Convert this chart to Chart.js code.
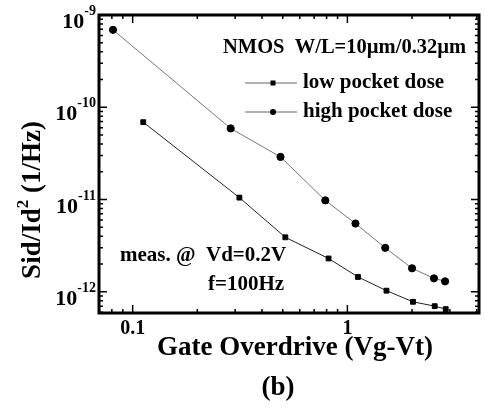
<!DOCTYPE html>
<html>
<head>
<meta charset="utf-8">
<script src="https://cdn.jsdelivr.net/npm/chart.js@4/dist/chart.umd.min.js"></script>
<style>
  body { margin: 0; background: #fff; }
  canvas { display: block; }
</style>
</head>
<body>
<canvas id="noise-chart" width="484" height="416"></canvas>
<script>
// Gate overdrive (V) and normalized drain current noise (1/Hz)
const lowX = [0.112, 0.314, 0.514, 0.817, 1.12, 1.52, 2.02, 2.55, 2.87];
const lowY = [6.9e-11, 1.05e-11, 3.9e-12, 2.3e-12, 1.45e-12, 1.03e-12, 7.8e-13, 7.0e-13, 6.5e-13];
const highX = [0.081, 0.286, 0.488, 0.789, 1.09, 1.50, 2.0, 2.53, 2.85];
const highY = [6.9e-10, 5.9e-11, 2.9e-11, 9.8e-12, 5.5e-12, 3.0e-12, 1.8e-12, 1.4e-12, 1.3e-12];

const seriesNames = ['low pocket dose', 'high pocket dose'];
const xTickLabels = ['0.1', '1'];
const xTickValues = [0.1, 1];
const yDecades = [-12, -11, -10, -9];

const FONT = '"Liberation Serif", "Times New Roman", serif';

function toPoints(xs, ys) {
  return xs.map((x, i) => ({ x: x, y: ys[i] }));
}

// Draw frame, inward ticks, labels, legend and notes
const decorations = {
  id: 'decorations',
  afterDraw(chart) {
    const ctx = chart.ctx;
    const xs = chart.scales.x;
    const ys = chart.scales.y;
    const a = chart.chartArea;

    ctx.save();
    ctx.strokeStyle = '#000';
    ctx.fillStyle = '#000';

    // ticks on x (top and bottom)
    ctx.lineWidth = 1.5;
    for (let d = -2; d <= 0; d++) {
      for (let m = 1; m <= 9; m++) {
        const v = m * Math.pow(10, d);
        if (v < xs.min || v > xs.max) continue;
        const px = xs.getPixelForValue(v);
        const len = m === 1 ? 8 : 4;
        ctx.beginPath();
        ctx.moveTo(px, a.bottom); ctx.lineTo(px, a.bottom - len);
        ctx.moveTo(px, a.top); ctx.lineTo(px, a.top + len);
        ctx.stroke();
      }
    }
    // ticks on y (left and right)
    for (let d = -13; d <= -9; d++) {
      for (let m = 1; m <= 9; m++) {
        const v = m * Math.pow(10, d);
        if (v < ys.min * 0.999 || v > ys.max * 1.001) continue;
        const py = ys.getPixelForValue(v);
        const len = m === 1 ? 8 : 4;
        ctx.beginPath();
        ctx.moveTo(a.left, py); ctx.lineTo(a.left + len, py);
        ctx.moveTo(a.right, py); ctx.lineTo(a.right - len, py);
        ctx.stroke();
      }
    }

    // frame
    ctx.lineWidth = 3;
    ctx.strokeRect(a.left, a.top, a.right - a.left, a.bottom - a.top);

    // x tick labels
    ctx.font = 'bold 20px ' + FONT;
    ctx.textAlign = 'center';
    ctx.textBaseline = 'middle';
    xTickValues.forEach((v, i) => {
      ctx.fillText(xTickLabels[i], xs.getPixelForValue(v), a.bottom + 16);
    });

    // y tick labels 10^n
    yDecades.forEach(d => {
      const py = ys.getPixelForValue(Math.pow(10, d));
      const exp = '-' + Math.abs(d);
      ctx.font = 'bold 14px ' + FONT;
      const ew = ctx.measureText(exp).width;
      ctx.textAlign = 'right';
      ctx.textBaseline = 'alphabetic';
      ctx.fillText(exp, a.left - 3, py);
      ctx.font = 'bold 22px ' + FONT;
      ctx.fillText('10', a.left - 3 - ew, py + 13);
    });

    // axis titles
    ctx.font = 'bold 27px ' + FONT;
    ctx.textAlign = 'center';
    ctx.textBaseline = 'middle';
    ctx.fillText('Gate Overdrive (Vg-Vt)', 295, 348);
    ctx.fillText('(b)', 278, 388);

    ctx.save();
    ctx.translate(31, 200);
    ctx.rotate(-Math.PI / 2);
    const t1 = 'Sid/Id', t2 = ' (1/Hz)';
    ctx.font = 'bold 27px ' + FONT;
    const w1 = ctx.measureText(t1).width;
    const w3 = ctx.measureText(t2).width;
    ctx.font = 'bold 17px ' + FONT;
    const w2 = ctx.measureText('2').width;
    const total = w1 + w2 + w3;
    ctx.textAlign = 'left';
    ctx.textBaseline = 'alphabetic';
    let x0 = -total / 2;
    ctx.font = 'bold 27px ' + FONT;
    ctx.fillText(t1, x0, 9);
    ctx.font = 'bold 17px ' + FONT;
    ctx.fillText('2', x0 + w1, -3);
    ctx.font = 'bold 27px ' + FONT;
    ctx.fillText(t2, x0 + w1 + w2, 9);
    ctx.restore();

    // notes
    ctx.font = 'bold 20.5px ' + FONT;
    ctx.textAlign = 'left';
    ctx.textBaseline = 'middle';
    ctx.fillText('NMOS  W/L=10\u00b5m/0.32\u00b5m', 223, 48);
    ctx.font = 'bold 21px ' + FONT;
    ctx.fillText('meas. @  Vd=0.2V', 120, 256);
    ctx.fillText('f=100Hz', 208, 285);

    // legend
    const ds = chart.data.datasets;
    [83, 112].forEach((ly, i) => {
      const d = ds[i];
      ctx.strokeStyle = '#666';
      ctx.lineWidth = 1;
      ctx.beginPath();
      ctx.moveTo(245, ly); ctx.lineTo(297, ly);
      ctx.stroke();
      ctx.fillStyle = '#000';
      if (d.pointStyle === 'rect') {
        ctx.fillRect(273 - 2.5, ly - 2.5, 5, 5);
      } else {
        ctx.beginPath();
        ctx.arc(273, ly, 3, 0, Math.PI * 2);
        ctx.fill();
      }
      ctx.font = 'bold 21px ' + FONT;
      ctx.fillText(d.label, 303, ly);
    });

    ctx.restore();
  }
};

new Chart(document.getElementById('noise-chart'), {
  type: 'line',
  data: {
    datasets: [
      {
        label: seriesNames[0],
        data: toPoints(lowX, lowY),
        borderColor: '#222',
        borderWidth: 1,
        pointStyle: 'rect',
        pointRadius: 3.4,
        pointBackgroundColor: '#000',
        pointBorderColor: '#000',
        tension: 0
      },
      {
        label: seriesNames[1],
        data: toPoints(highX, highY),
        borderColor: '#777',
        borderWidth: 1,
        pointStyle: 'circle',
        pointRadius: 3.6,
        pointBackgroundColor: '#000',
        pointBorderColor: '#000',
        tension: 0
      }
    ]
  },
  options: {
    responsive: false,
    animation: false,
    layout: { padding: { top: 15, right: 2, left: 0, bottom: 0 } },
    plugins: {
      legend: { display: false },
      tooltip: { enabled: false }
    },
    scales: {
      x: {
        type: 'logarithmic',
        min: 0.0697,
        max: 4.1,
        grid: { display: false },
        border: { display: false },
        ticks: { display: false },
        afterFit(scale) { scale.height = 103; }
      },
      y: {
        type: 'logarithmic',
        min: 5.9e-13,
        max: 1e-9,
        grid: { display: false },
        border: { display: false },
        ticks: { display: false },
        afterFit(scale) { scale.width = 99; }
      }
    }
  },
  plugins: [decorations]
});
</script>
</body>
</html>
